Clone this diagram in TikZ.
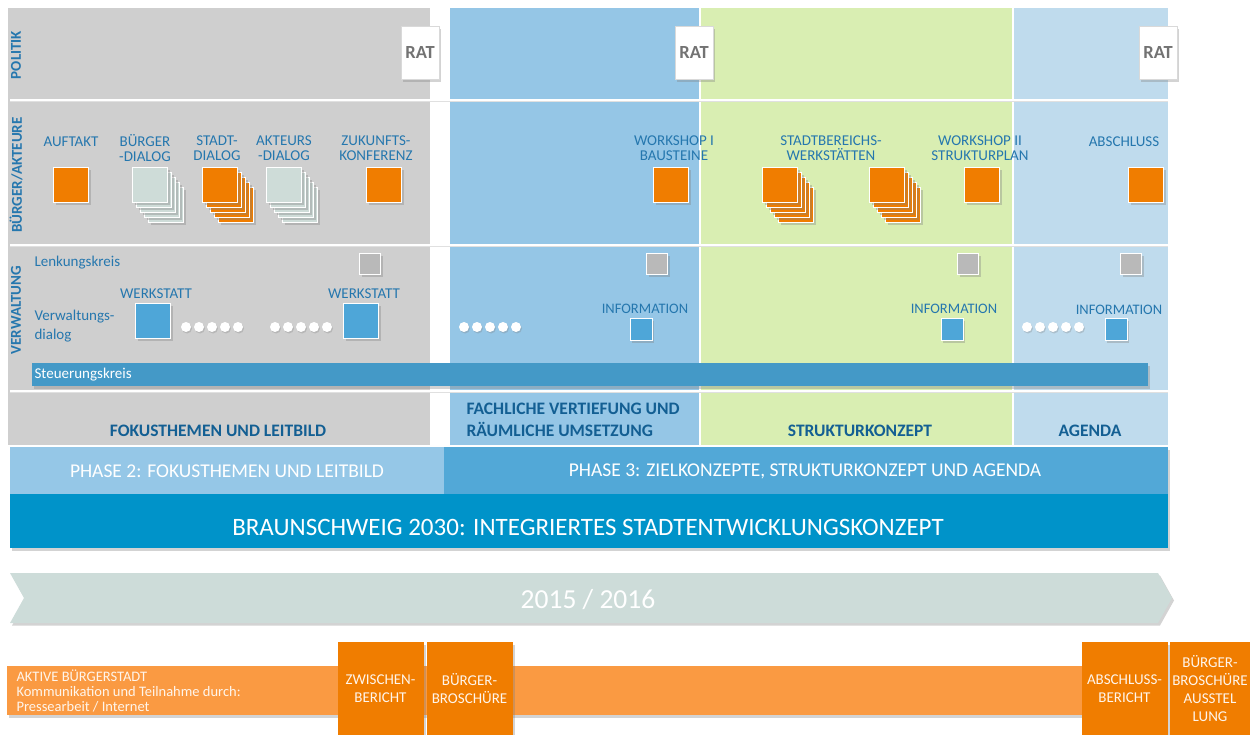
\documentclass[tikz,border=0pt]{standalone}
\usepackage{fontspec}
\setmainfont{Carlito}
\usepackage{tikz}
\usetikzlibrary{shadows}

\definecolor{panelgray}{HTML}{CFCFCF}
\definecolor{panelblue}{HTML}{95C6E6}
\definecolor{panelgreen}{HTML}{D9EEB2}
\definecolor{panellight}{HTML}{BFDBED}
\definecolor{textblue}{HTML}{2577AE}
\definecolor{headblue}{HTML}{135F93}
\definecolor{orangedark}{HTML}{F07D00}
\definecolor{orangelight}{HTML}{FA9A42}
\definecolor{mintgray}{HTML}{CEDCD8}
\definecolor{squareblue}{HTML}{4EA6D8}
\definecolor{squaregray}{HTML}{B9B9B9}
\definecolor{barblue}{HTML}{4499C7}
\definecolor{phaselight}{HTML}{95C7E7}
\definecolor{phasemid}{HTML}{52A8D7}
\definecolor{bsblue}{HTML}{0093C9}
\definecolor{arrowgray}{HTML}{CDDCD9}

\newcommand{\fs}[2]{\fontsize{#1}{#2}\selectfont}
% stack of squares: name, x, y, style
\newcommand{\stackbox}[4]{%
  \foreach \k in {4,3,2,1}
    \node[#4] at ({#2+\k*4},{#3+\k*5}) {};
  \node[#4] (#1) at (#2,#3) {};}

\begin{document}
\begin{tikzpicture}[x=1pt,y=-1pt,
    shade/.style={drop shadow={opacity=0.35,shadow xshift=2pt,shadow yshift=-2.5pt}},
    rowtitle/.style={text=textblue,font=\fs{15}{17}\bfseries,rotate=90},
    lbl/.style={text=textblue,font=\fs{15}{15.5},align=center},
    small/.style={text=textblue,font=\fs{15}{19},align=left,anchor=west},
    info/.style={text=textblue,font=\fs{14.5}{16}},
    head/.style={text=headblue,font=\fs{17.5}{22}\bfseries,align=left},
    ratbox/.style={fill=white,draw=white!85!black,line width=0.5pt,minimum width=38,minimum height=53,inner sep=0,text=black!55,font=\fs{18.5}{20}\bfseries,shade},
    sqbase/.style={draw=white,line width=0.8pt,inner sep=0,minimum size=35,shade},
    orangesq/.style={sqbase,fill=orangedark},
    mintsq/.style={sqbase,fill=mintgray},
    bluesq/.style={sqbase,fill=squareblue},
    graysq/.style={sqbase,fill=squaregray,minimum size=21},
    infosq/.style={sqbase,fill=squareblue,minimum size=22},
    dot/.style={circle,fill=white,inner sep=0,minimum size=10,drop shadow={opacity=0.3,shadow xshift=1pt,shadow yshift=-1.5pt}},
    bericht/.style={fill=orangedark,inner sep=0,minimum width=86,minimum height=93,text=white!92!orange,font=\fs{15}{18},align=center,shade}]
  \useasboundingbox (0,0) rectangle (1250,735);

  % Panels
  \fill[panelgray] (8,8) rectangle (430,445);
  \fill[panelblue] (450,8) rectangle (700,445);
  \fill[panelgreen] (700,8) rectangle (1013,445);
  \fill[panellight] (1013,8) rectangle (1168,445);
  \draw[white,line width=1.2pt] (700,8) -- (700,445);
  \draw[white,line width=1.2pt] (1013,8) -- (1013,445);

  % Grid lines
  \foreach \y in {100,245,391} {
    \draw[black!12,line width=1pt] (10,\y+1.5) -- (1168,\y+1.5);
    \draw[white,line width=1.2pt] (10,\y) -- (1168,\y);
  }

  % Row titles
  \node[rowtitle] (politik) at (16,55) {POLITIK};
  \node[rowtitle] (buerger) at (16,175) {BÜRGER/AKTEURE};
  \node[rowtitle] (verwaltung) at (16,310) {VERWALTUNG};

  % Politik
  \node[ratbox] (rat1) at (420,53) {RAT};
  \node[ratbox] (rat2) at (694,53) {RAT};
  \node[ratbox] (rat3) at (1158,53) {RAT};

  % Buerger/Akteure
  \node[lbl] (auftaktL) at (71,142) {AUFTAKT};
  \node[orangesq] (auftakt) at (71,185) {};
  \node[lbl] (bdialogL) at (145,148) {BÜRGER\\-DIALOG};
  \stackbox{bdialog}{150}{185}{mintsq}
  \node[lbl] (sdialogL) at (217,148) {STADT-\\DIALOG};
  \stackbox{sdialog}{220}{185}{orangesq}
  \node[lbl] (adialogL) at (284,148) {AKTEURS\\-DIALOG};
  \stackbox{adialog}{284}{185}{mintsq}
  \node[lbl] (zukunftL) at (376,148) {ZUKUNFTS-\\KONFERENZ};
  \node[orangesq] (zukunft) at (384,185) {};
  \node[lbl] (ws1L) at (674,148) {WORKSHOP I\\BAUSTEINE};
  \node[orangesq] (ws1) at (671,185) {};
  \node[lbl] (werkL) at (831,148) {STADTBEREICHS-\\WERKSTÄTTEN};
  \stackbox{werk1}{780}{185}{orangesq}
  \stackbox{werk2}{887}{185}{orangesq}
  \node[lbl] (ws2L) at (980,148) {WORKSHOP II\\STRUKTURPLAN};
  \node[orangesq] (ws2) at (982,185) {};
  \node[lbl] (abschlussL) at (1124,142) {ABSCHLUSS};
  \node[orangesq] (abschluss) at (1146,185) {};

  % Verwaltung
  \node[small] (lenkung) at (31,263) {Lenkungskreis};
  \node[small] (vdialog) at (31,326) {Verwaltungs-\\dialog};
  \node[graysq] (lk1) at (370,264) {};
  \node[graysq] (lk2) at (657,264) {};
  \node[graysq] (lk3) at (968,264) {};
  \node[graysq] (lk4) at (1131,264) {};
  \node[lbl] (wst1L) at (156,294) {WERKSTATT};
  \node[bluesq] (wst1) at (153,321) {};
  \node[lbl] (wst2L) at (364,294) {WERKSTATT};
  \node[bluesq] (wst2) at (361,321) {};
  \foreach \x in {186,275,464,1027}
    \foreach \i in {0,...,4}
      \node[dot] at (\x+\i*13,327) {};
  \node[info] (info1L) at (645,309) {INFORMATION};
  \node[infosq] (info1) at (641,329) {};
  \node[info] (info2L) at (954,309) {INFORMATION};
  \node[infosq] (info2) at (952,329) {};
  \node[info] (info3L) at (1119,310) {INFORMATION};
  \node[infosq] (info3) at (1116,329) {};

  % Steuerungskreis
  \fill[barblue,shade] (32,363) rectangle (1148,386);
  \node[anchor=west,text=white,font=\fs{15}{16}] (steuerung) at (31,374.5) {Steuerungskreis};

  % Phase headings
  \node[head] (fokus) at (218,431) {FOKUSTHEMEN UND LEITBILD};
  \node[head,anchor=west] (fachlich) at (463,420) {FACHLICHE VERTIEFUNG UND\\RÄUMLICHE UMSETZUNG};
  \node[head] (struktur) at (860,431) {STRUKTURKONZEPT};
  \node[head] (agenda) at (1090,431) {AGENDA};

  % Phase bands
  \fill[bsblue,shade] (10,447) rectangle (1168,548);
  \fill[phaselight] (10,447) rectangle (444,494);
  \fill[phasemid] (444,447) rectangle (1168,494);
  \node[text=white,font=\fs{19.5}{21}] (phase2) at (227,471) {PHASE 2: FOKUSTHEMEN UND LEITBILD};
  \node[text=white,font=\fs{19.5}{21}] (phase3) at (805,471) {PHASE 3: ZIELKONZEPTE, STRUKTURKONZEPT UND AGENDA};
  \node[text=white,font=\fs{25}{27}] (bs) at (588,527) {BRAUNSCHWEIG 2030: INTEGRIERTES STADTENTWICKLUNGSKONZEPT};

  % Time arrow
  \fill[arrowgray,shade] (10,573) -- (1158,573) -- (1172,598) -- (1158,623) -- (10,623) -- (24,598) -- cycle;
  \node[text=white,font=\fs{27.5}{30}] (jahr) at (588,600) {2015 / 2016};

  % Aktive Buergerstadt
  \fill[orangelight,shade] (7,666) rectangle (1165,715);
  \node[anchor=west,text=white!92!orange,font=\fs{14.5}{15},align=left] (aktiv) at (13,691) {AKTIVE BÜRGERSTADT\\Kommunikation und Teilnahme durch:\\Pressearbeit / Internet};
  \node[bericht] (zwischen) at (380.5,688.5) {ZWISCHEN-\\BERICHT};
  \node[bericht] (broschuere) at (469.5,688.5) {BÜRGER-\\BROSCHÜRE};
  \node[bericht] (abschlussB) at (1124.5,688.5) {ABSCHLUSS-\\BERICHT};
  \node[bericht,minimum width=81] (ausstellung) at (1210,688.5) {BÜRGER-\\BROSCHÜRE\\AUSSTEL\\LUNG};
\end{tikzpicture}
\end{document}
